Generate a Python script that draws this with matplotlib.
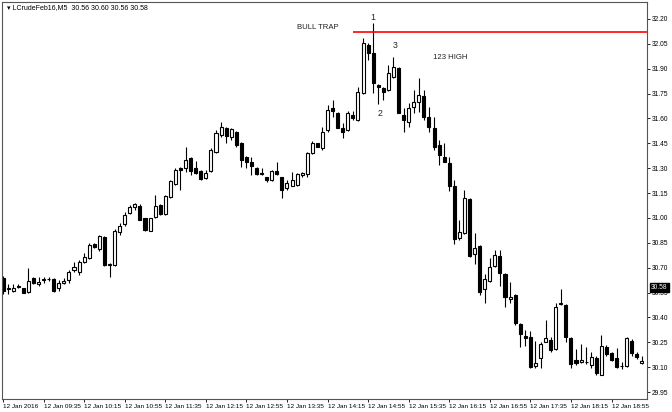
#plot_bull_trap_m5.py

import matplotlib.pyplot as plt
import numpy as np

plt.rcParams.update({
    'font.family': ['Liberation Sans', 'DejaVu Sans'],
    'font.size': 6,
})

# M5 candles, LCrudeFeb16, 12 Jan 2016
opens = [30.64, 30.57, 30.56, 30.585, 30.58, 30.555, 30.64, 30.60, 30.625, 30.63,
         30.63, 30.58, 30.61, 30.625, 30.685, 30.675, 30.735, 30.76, 30.845, 30.81,
         30.885, 30.715, 30.715, 30.915, 30.965, 31.03, 31.065, 31.07, 31.00, 30.92,
         31.005, 31.08, 31.025, 31.125, 31.205, 31.30, 31.30, 31.36, 31.30, 31.285,
         31.24, 31.285, 31.40, 31.50, 31.545, 31.49, 31.52, 31.45, 31.37, 31.34,
         31.30, 31.27, 31.245, 31.23, 31.285, 31.245, 31.18, 31.19, 31.20, 31.26,
         31.265, 31.39, 31.45, 31.42, 31.53, 31.665, 31.63, 31.545, 31.53, 31.62,
         31.59, 31.755, 32.045, 31.995, 31.80, 31.785, 31.77, 31.85, 31.905, 31.62,
         31.58, 31.67, 31.70, 31.735, 31.61, 31.545, 31.44, 31.37, 31.33, 31.19,
         30.88, 30.91, 31.115, 30.78, 30.83, 30.57, 30.62, 30.71, 30.77, 30.66,
         30.51, 30.535, 30.36, 30.29, 30.28, 30.105, 30.155, 30.25, 30.265, 30.21,
         30.48, 30.475, 30.275, 30.145, 30.13, 30.13, 30.115, 30.155, 30.055, 30.22,
         30.185, 30.155, 30.11, 30.11, 30.26, 30.18, 30.125]
highs = [30.65, 30.60, 30.60, 30.60, 30.58, 30.70, 30.645, 30.645, 30.645, 30.645,
         30.635, 30.625, 30.64, 30.685, 30.735, 30.745, 30.79, 30.85, 30.85, 30.895,
         30.89, 30.73, 30.935, 30.97, 31.035, 31.08, 31.09, 31.085, 31.00, 31.00,
         31.14, 31.085, 31.14, 31.23, 31.30, 31.305, 31.425, 31.37, 31.345, 31.29,
         31.29, 31.42, 31.53, 31.58, 31.55, 31.545, 31.525, 31.46, 31.375, 31.37,
         31.305, 31.30, 31.25, 31.29, 31.34, 31.25, 31.23, 31.28, 31.27, 31.28,
         31.40, 31.465, 31.455, 31.55, 31.68, 31.71, 31.64, 31.575, 31.645, 31.645,
         31.79, 32.085, 32.055, 32.175, 31.805, 31.79, 31.925, 31.97, 31.91, 31.665,
         31.695, 31.77, 31.845, 31.77, 31.67, 31.61, 31.47, 31.45, 31.37, 31.23,
         30.99, 31.17, 31.12, 30.91, 30.835, 30.66, 30.76, 30.805, 30.805, 30.67,
         30.615, 30.54, 30.365, 30.325, 30.32, 30.26, 30.25, 30.385, 30.28, 30.49,
         30.57, 30.48, 30.28, 30.21, 30.24, 30.22, 30.19, 30.165, 30.295, 30.235,
         30.19, 30.215, 30.13, 30.28, 30.27, 30.19, 30.165]
lows = [30.54, 30.54, 30.555, 30.58, 30.545, 30.55, 30.60, 30.59, 30.61, 30.62,
        30.555, 30.56, 30.60, 30.61, 30.675, 30.655, 30.73, 30.755, 30.82, 30.80,
        30.71, 30.645, 30.71, 30.90, 30.95, 31.025, 31.05, 30.985, 30.92, 30.92,
        31.00, 31.02, 31.02, 31.12, 31.20, 31.17, 31.28, 31.26, 31.265, 31.23,
        31.235, 31.28, 31.39, 31.49, 31.45, 31.47, 31.43, 31.31, 31.30, 31.26,
        31.26, 31.26, 31.215, 31.225, 31.26, 31.12, 31.17, 31.19, 31.195, 31.25,
        31.25, 31.385, 31.425, 31.41, 31.52, 31.61, 31.54, 31.48, 31.525, 31.59,
        31.585, 31.75, 31.95, 31.755, 31.69, 31.71, 31.765, 31.845, 31.63, 31.52,
        31.55, 31.635, 31.64, 31.59, 31.52, 31.41, 31.32, 31.335, 31.16, 30.845,
        30.865, 30.905, 30.765, 30.725, 30.535, 30.49, 30.615, 30.705, 30.59, 30.465,
        30.49, 30.355, 30.22, 30.225, 30.095, 30.095, 30.095, 30.25, 30.19, 30.205,
        30.475, 30.25, 30.095, 30.115, 30.125, 30.12, 30.095, 30.05, 30.05, 30.165,
        30.135, 30.095, 30.09, 30.10, 30.165, 30.15, 30.12]
closes = [30.56, 30.58, 30.58, 30.59, 30.55, 30.62, 30.61, 30.615, 30.63, 30.63,
          30.56, 30.61, 30.62, 30.675, 30.705, 30.735, 30.765, 30.835, 30.825, 30.89,
          30.715, 30.72, 30.92, 30.95, 31.02, 31.065, 31.085, 30.99, 30.925, 31.00,
          31.07, 31.025, 31.13, 31.22, 31.29, 31.29, 31.35, 31.285, 31.27, 31.235,
          31.27, 31.41, 31.51, 31.55, 31.495, 31.535, 31.44, 31.35, 31.34, 31.315,
          31.265, 31.265, 31.23, 31.285, 31.265, 31.17, 31.21, 31.23, 31.265, 31.27,
          31.39, 31.45, 31.43, 31.52, 31.65, 31.645, 31.545, 31.52, 31.635, 31.60,
          31.76, 32.055, 31.995, 31.815, 31.79, 31.76, 31.875, 31.91, 31.635, 31.59,
          31.665, 31.70, 31.74, 31.61, 31.55, 31.43, 31.38, 31.34, 31.19, 30.875,
          30.915, 31.12, 30.77, 30.82, 30.555, 30.63, 30.705, 30.775, 30.67, 30.525,
          30.525, 30.365, 30.30, 30.275, 30.10, 30.125, 30.24, 30.275, 30.205, 30.465,
          30.49, 30.28, 30.12, 30.125, 30.145, 30.13, 30.16, 30.065, 30.23, 30.18,
          30.145, 30.10, 30.105, 30.275, 30.185, 30.16, 30.14]

tick_labels = ["12 Jan 2016", "12 Jan 09:35", "12 Jan 10:15", "12 Jan 10:55",
               "12 Jan 11:35", "12 Jan 12:15", "12 Jan 12:55", "12 Jan 13:35",
               "12 Jan 14:15", "12 Jan 14:55", "12 Jan 15:35", "12 Jan 16:15",
               "12 Jan 16:55", "12 Jan 17:35", "12 Jan 18:15", "12 Jan 18:55"]
price_ticks = [29.95, 30.10, 30.25, 30.40, 30.55, 30.70, 30.85, 31.00,
               31.15, 31.30, 31.45, 31.60, 31.75, 31.90, 32.05, 32.20]
trap_level = 32.12
last_price = 30.58

o = np.array(opens)
h = np.array(highs)
l = np.array(lows)
c = np.array(closes)
x = np.arange(len(o))
up = c >= o

fig = plt.figure(figsize=(6.72, 4.12), dpi=100)
ax = fig.add_axes([2 / 672, 13 / 412, 645 / 672, 397 / 412])

# wicks first, bodies on top so the hollow ones cover the wick
ax.vlines(x, l, h, color='black', linewidth=0.8, zorder=1)
body_w = 0.6
ax.bar(x[up], c[up] - o[up], body_w, bottom=o[up], facecolor='white',
       edgecolor='black', linewidth=0.8, zorder=2)
ax.bar(x[~up], o[~up] - c[~up], body_w, bottom=c[~up], facecolor='black',
       edgecolor='black', linewidth=0.8, zorder=2)

# bull trap line
ax.hlines(trap_level, 69, 130, color='red', linewidth=1.2, zorder=3)

ax.set_xlim(-0.2, 127.0)
ax.set_ylim(29.908, 32.3025)

ax.set_xticks(np.arange(0, 8 * len(tick_labels), 8))
ax.set_xticklabels(tick_labels, ha='left', fontsize=4.6)
ax.tick_params(axis='x', length=2, pad=1.5, width=0.6)

ax.yaxis.tick_right()
ax.set_yticks(price_ticks)
ax.set_yticklabels([f"{p:.2f}" for p in price_ticks], fontsize=4.8)
ax.tick_params(axis='y', length=2, pad=1.5, width=0.6)

for s in ax.spines.values():
    s.set_color('#555555')
    s.set_linewidth(0.8)

# annotations
ax.text(0.7, 32.27, "\u25be LCrudeFeb16,M5  30.56 30.60 30.56 30.58",
        fontsize=5.0, va='center', ha='left')
ax.text(58.0, 32.15, "BULL TRAP", fontsize=5.6, va='center', ha='left', color='#222222')
ax.text(73, 32.21, "1", fontsize=6.3, va='center', ha='center', color='#222222')
ax.text(77.3, 32.04, "3", fontsize=6.3, va='center', ha='center', color='#222222')
ax.text(84.7, 31.97, "123 HIGH", fontsize=5.6, va='center', ha='left', color='#222222')
ax.text(74.3, 31.63, "2", fontsize=6.3, va='center', ha='center', color='#222222')

# last price box on the price scale
ax.annotate(f"{last_price:.2f}", xy=(1.0, last_price), xycoords=('axes fraction', 'data'),
            xytext=(3, 0), textcoords='offset points', fontsize=4.8, color='white',
            va='center', ha='left',
            bbox=dict(boxstyle='square,pad=0.15', facecolor='black', edgecolor='black'))

fig.savefig('out.png', dpi=100)
